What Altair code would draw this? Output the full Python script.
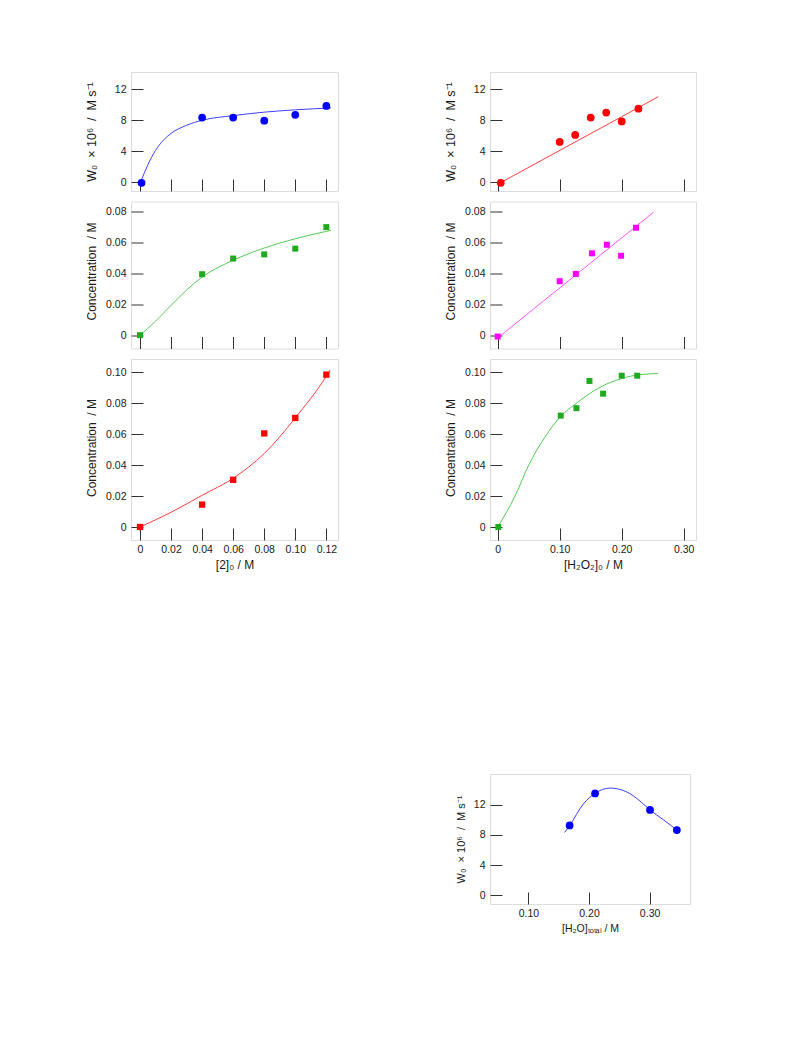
import altair as alt
import pandas as pd

FONT = "Liberation Sans"
TXT = "#1a1a1a"
TICK = "#333333"

# ---------------- data ----------------
# Panel A (top-left): W0 vs [2]0
a_x = [0.001, 0.04, 0.06, 0.08, 0.10, 0.12]
a_y = [-0.1, 8.35, 8.35, 7.95, 8.7, 9.85]
a_fx = [0.0008, 0.005, 0.01, 0.015, 0.02, 0.03, 0.04, 0.06, 0.08, 0.10, 0.123]
a_fy = [0.2, 2.2, 4.1, 5.4, 6.3, 7.35, 8.0, 8.6, 9.05, 9.35, 9.6]

# Panel B (middle-left): concentration vs [2]0
b_x = [0.0, 0.04, 0.06, 0.08, 0.10, 0.12]
b_y = [0.0, 0.0393, 0.0494, 0.0521, 0.0558, 0.0697]
b_fx = [0.0, 0.01, 0.02, 0.04, 0.06, 0.08, 0.10, 0.123]
b_fy = [0.0, 0.009, 0.0193, 0.0375, 0.0483, 0.0562, 0.0622, 0.0676]

# Panel C (bottom-left): concentration vs [2]0
c_x = [0.0, 0.04, 0.06, 0.08, 0.10, 0.12]
c_y = [0.0, 0.0145, 0.0305, 0.0605, 0.0705, 0.0985]
c_fx = [0.0, 0.02, 0.04, 0.06, 0.08, 0.10, 0.12, 0.1225]
c_fy = [0.0, 0.0095, 0.0205, 0.0315, 0.0475, 0.0705, 0.0975, 0.1015]

# Panel D (top-right): W0 vs [H2O2]0
d_x = [0.005, 0.10, 0.125, 0.15, 0.175, 0.20, 0.227]
d_y = [-0.1, 5.2, 6.1, 8.35, 9.0, 7.85, 9.5]
d_fx = [0.0065, 0.259]
d_fy = [0.0, 11.05]

# Panel E (middle-right): concentration vs [H2O2]0
e_x = [0.0, 0.10, 0.126, 0.152, 0.176, 0.199, 0.223]
e_y = [-0.0009, 0.0348, 0.0395, 0.0528, 0.0583, 0.0512, 0.0693]
e_fx = [0.004, 0.251]
e_fy = [-0.0005, 0.0792]

# Panel F (bottom-right): concentration vs [H2O2]0
f_x = [0.001, 0.1016, 0.127, 0.148, 0.170, 0.200, 0.225]
f_y = [0.0, 0.072, 0.0768, 0.0944, 0.0862, 0.0978, 0.0978]
f_fx = [0.0, 0.028, 0.05, 0.076, 0.1016, 0.127, 0.149, 0.176, 0.20, 0.2295, 0.259]
f_fy = [0.0, 0.02, 0.04, 0.058, 0.0715, 0.080, 0.0865, 0.0925, 0.096, 0.0985, 0.0992]

# Panel G (lower): W0 vs [H2O]total
g_x = [0.168, 0.21, 0.3007, 0.345]
g_y = [9.26, 13.49, 11.3, 8.65]
g_fx = [0.1597, 0.1682, 0.1906, 0.2099, 0.2346, 0.262, 0.284, 0.3007, 0.3234, 0.3452]
g_fy = [8.33, 9.26, 12.09, 13.49, 14.2, 13.7, 12.5, 11.3, 9.97, 8.65]

# tick values / labels
w_ticks = [0, 4, 8, 12]
conc8_ticks = [0, 0.02, 0.04, 0.06, 0.08]
conc10_ticks = [0, 0.02, 0.04, 0.06, 0.08, 0.10]
left_x_ticks = [0, 0.02, 0.04, 0.06, 0.08, 0.10, 0.12]
right_x_ticks = [0, 0.10, 0.20, 0.30]
g_x_ticks = [0.10, 0.20, 0.30]

W_TITLE = "W₀\u00a0 × 10⁶ \u00a0/ \u00a0M s⁻¹"
C_TITLE = "Concentration\u00a0 / M"

ZERO_FMT = "datum.value == 0 ? '0' : format(datum.value, '.2f')"


def x_axis(values, labels, title=None, label_expr=ZERO_FMT, lfs=10.5, tfs=12):
    kw = dict(values=values, offset=-12, tickSize=12, tickColor=TICK, tickWidth=1,
              domain=False, grid=False, labelFont=FONT, labelFontSize=lfs,
              labelColor=TXT, labelPadding=4, titleFont=FONT, titleFontSize=tfs,
              titleFontWeight="normal", titleColor=TXT, titlePadding=5, title=title)
    if labels:
        kw["labelExpr"] = label_expr
    else:
        kw["labels"] = False
    return alt.Axis(**kw)


def y_axis(values, title, h, label_expr=None, lfs=10.5, tfs=12, tx=-52, dy=0):
    kw = dict(values=values, offset=-12, tickSize=12, tickColor=TICK, tickWidth=1,
              domain=False, grid=False, labelFont=FONT, labelFontSize=lfs,
              labelColor=TXT, labelPadding=5, titleFont=FONT, titleFontSize=tfs,
              titleFontWeight="normal", titleColor=TXT, title=title,
              titleX=tx, titleY=h / 2 + dy, titleAngle=270, titleAlign="center",
              titleBaseline="middle")
    if label_expr:
        kw["labelExpr"] = label_expr
    return alt.Axis(**kw)


def panel(px, py, fx, fy, cpt, cln, shape, size, xdom, ydom, w, h, xax, yax, interp):
    pts = pd.DataFrame({"x": px, "y": py})
    fit = pd.DataFrame({"x": fx, "y": fy})
    xs = alt.Scale(domain=xdom, nice=False, zero=False)
    ys = alt.Scale(domain=ydom, nice=False, zero=False)
    enc = dict(x=alt.X("x:Q", scale=xs, axis=xax), y=alt.Y("y:Q", scale=ys, axis=yax))
    line = alt.Chart(fit).mark_line(color=cln, strokeWidth=1, interpolate=interp).encode(**enc)
    dots = alt.Chart(pts).mark_point(filled=True, shape=shape, size=size, color=cpt,
                                     opacity=1, strokeWidth=0).encode(**enc)
    return alt.layer(line, dots).properties(width=w, height=h)


def spacer(w, h):
    return alt.Chart(pd.DataFrame({"v": [0]})).mark_point(opacity=0).encode(
        x=alt.X("v:Q", axis=None), y=alt.Y("v:Q", axis=None)
    ).properties(width=w, height=h, view=alt.ViewBackground(stroke="transparent"))


LX = [-0.0058, 0.1275]
RX = [-0.0124, 0.3198]
WY = [-1.16, 14.25]
C8 = [-0.0086, 0.0862]
C10 = [-0.0084, 0.1086]

BLUE, BLUE_L = "#0000ff", "#4040ff"
RED, RED_L = "#ff0000", "#ff4040"
GREEN, GREEN_L = "#1faa1f", "#55cc55"
MAG, MAG_L = "#ff00ff", "#ff55ff"

pA = panel(a_x, a_y, a_fx, a_fy, BLUE, BLUE_L, "circle", 60, LX, WY, 207, 119,
           x_axis(left_x_ticks, False), y_axis(w_ticks, W_TITLE, 119, None, 10.5, 12.5), "monotone")
pB = panel(b_x, b_y, b_fx, b_fy, GREEN, GREEN_L, "square", 36, LX, C8, 207, 147,
           x_axis(left_x_ticks, False),
           y_axis(conc8_ticks, C_TITLE, 147, ZERO_FMT, dy=-4), "monotone")
pC = panel(c_x, c_y, c_fx, c_fy, RED, RED_L, "square", 40, LX, C10, 207, 181,
           x_axis(left_x_ticks, True, "[2]₀ / M"),
           y_axis(conc10_ticks, C_TITLE, 181, ZERO_FMT, dy=-2), "monotone")
pD = panel(d_x, d_y, d_fx, d_fy, RED, RED_L, "circle", 60, RX, WY, 206, 119,
           x_axis(right_x_ticks, False), y_axis(w_ticks, W_TITLE, 119, None, 10.5, 12.5), "linear")
pE = panel(e_x, e_y, e_fx, e_fy, MAG, MAG_L, "square", 36, RX, C8, 206, 147,
           x_axis(right_x_ticks, False),
           y_axis(conc8_ticks, C_TITLE, 147, ZERO_FMT, dy=-4), "linear")
pF = panel(f_x, f_y, f_fx, f_fy, GREEN, GREEN_L, "square", 36, RX, C10, 206, 181,
           x_axis(right_x_ticks, True, "[H₂O₂]₀ / M"),
           y_axis(conc10_ticks, C_TITLE, 181, ZERO_FMT, dy=-2), "monotone")
pG = panel(g_x, g_y, g_fx, g_fy, BLUE, BLUE_L, "circle", 60, [0.0366, 0.3667], [-1.14, 16.06],
           200, 130,
           x_axis(g_x_ticks, True, "[H₂O]ₜₒₜₐₗ / M", "format(datum.value, '.2f')", 10.5, 10.5),
           y_axis(w_ticks, W_TITLE, 130, None, 10.5, 11, -40.7), "monotone")

chart = alt.concat(
    pA, pD, pB, pE, pC, pF,
    spacer(1, 1), spacer(1, 212.3),
    spacer(1, 1), pG,
    columns=2, spacing={"row": 10.5, "column": 152}, bounds="flush",
).properties(
    padding={"left": 76, "top": 63, "right": 5, "bottom": 5}
).configure_view(stroke="#808080", strokeWidth=1).configure(font=FONT)

chart.save("out.html", embed_options={"renderer": "svg", "actions": False})
